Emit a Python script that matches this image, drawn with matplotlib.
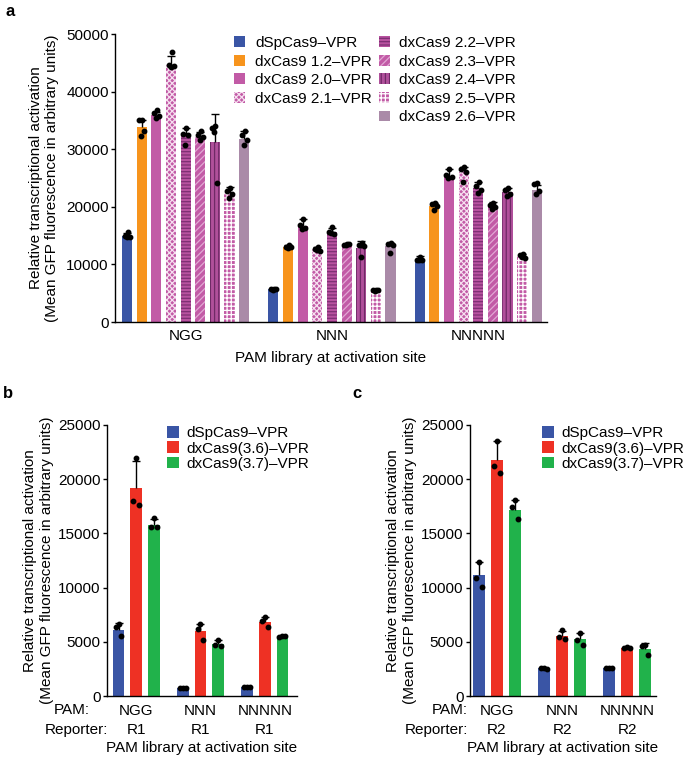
'''
PAM activation bar charts (panels a, b, c)
'''
import numpy as np
import matplotlib
matplotlib.use('Agg')
import matplotlib.pyplot as plt
from matplotlib.patches import Patch

plt.rcParams['font.family'] = ['Liberation Sans', 'DejaVu Sans']
plt.rcParams['font.size'] = 11
plt.rcParams['hatch.linewidth'] = 0.9

# ---- panel a data (values in arbitrary units) ----
pam_groups = ['NGG', 'NNN', 'NNNNN']
variants_a = ['dSpCas9–VPR', 'dxCas9 1.2–VPR', 'dxCas9 2.0–VPR', 'dxCas9 2.1–VPR',
              'dxCas9 2.2–VPR', 'dxCas9 2.3–VPR', 'dxCas9 2.4–VPR', 'dxCas9 2.5–VPR',
              'dxCas9 2.6–VPR']
mean_ngg = [15000, 33900, 35900, 44600, 32500, 32200, 31200, 22400, 31700]
mean_nnn = [5700, 13100, 16700, 12600, 15600, 13400, 12900, 5500, 13200]
mean_nnnnn = [10900, 20200, 25400, 26000, 23300, 20200, 22500, 11400, 23000]
sd_ngg = [400, 1100, 600, 1600, 1200, 800, 4900, 1000, 1500]
sd_nnn = [150, 300, 1200, 500, 700, 150, 1100, 200, 500]
sd_nnnnn = [500, 500, 1100, 900, 1000, 600, 800, 400, 700]
pts_ngg = [[15600, 15000, 14700, 14800], [35000, 35000, 33200, 32300],
           [36800, 36300, 35700, 35500], [46900, 44600, 44400, 44300],
           [33600, 32700, 32400, 30700], [33200, 32500, 32200, 31600],
           [34000, 33600, 24100, 32900], [23300, 22800, 22300, 21600],
           [33200, 32400, 31600, 30800]]
pts_nnn = [[5800, 5700, 5700, 5600], [13300, 13100, 13000, 12900],
           [17800, 16800, 16400, 16200], [13000, 12600, 12400, 12500],
           [16500, 15600, 15300, 15400], [13500, 13400, 13500, 13400],
           [13800, 13400, 13200, 11300], [5600, 5500, 5500, 5400],
           [13800, 13500, 13300, 11900]]
pts_nnnnn = [[11300, 10800, 10700, 10800], [20700, 20400, 20200, 19500],
             [26600, 25500, 25200, 25000], [26900, 26500, 26100, 24300],
             [24300, 23600, 23000, 22400], [20700, 20300, 20000, 19600],
             [23300, 22900, 22300, 21800], [11800, 11600, 11100, 11200],
             [24100, 23900, 22800, 22200]]

# ---- panel b / c data ----
variants_bc = ['dSpCas9–VPR', 'dxCas9(3.6)–VPR', 'dxCas9(3.7)–VPR']
reporter_b = ['R1', 'R1', 'R1']
reporter_c = ['R2', 'R2', 'R2']
# rows = variant, columns = PAM group
mean_b = [[6100, 700, 850], [19200, 6000, 6850], [15800, 4800, 5500]]
sd_b = [[600, 100, 50], [2500, 600, 450], [500, 400, 50]]
pts_b = [[[6600, 6350, 5500], [750, 700, 700], [850, 850, 850]],
         [[22000, 18000, 17600], [6600, 6200, 5200], [7300, 6900, 6400]],
         [[16400, 15600, 15600], [5200, 4700, 4600], [5500, 5450, 5500]]]
mean_c = [[11200, 2550, 2550], [21800, 5500, 4400], [17200, 5250, 4350]]
sd_c = [[1200, 50, 50], [1700, 500, 100], [900, 550, 500]]
pts_c = [[[12400, 10900, 10100], [2600, 2550, 2500], [2600, 2550, 2550]],
         [[23500, 21200, 20600], [6100, 5400, 5300], [4500, 4400, 4400]],
         [[18100, 17400, 16300], [5800, 5200, 4700], [4700, 4600, 3800]]]

# styles: (facecolor, hatch colour, hatch)
styles_a = [('#3a55a5', None, None), ('#f7941d', None, None), ('#c25ba6', None, None),
            ('#c25ba6', '#f6e0f0', 'xxxxxx'), ('#b8529f', '#7d2f73', '-----'),
            ('#c25ba6', '#e2a8d4', '/////'), ('#b0509b', '#6e2a66', '||||'),
            ('#c25ba6', '#ffffff', '++++'), ('#aa8aa8', None, None)]
colors_bc = ['#3a55a5', '#ee3124', '#21b24b']

YLABEL = 'Relative transcriptional activation\n(Mean GFP fluorescence in arbitrary units)'
XLABEL = 'PAM library at activation site'


def style_axes(ax):
    '''
    Keep only left and bottom spines
    '''
    for side in ['top', 'right']:
        ax.spines[side].set_visible(False)
    ax.spines['left'].set_linewidth(1.0)
    ax.spines['bottom'].set_linewidth(1.0)
    ax.tick_params(axis='y', length=3, width=1.0, pad=1.5)
    ax.tick_params(axis='x', length=0)


def draw_bar(ax, x, width, mean, sd, pts, face, hcol, hatch, offsets):
    '''
    One bar with upper error bar and replicate dots
    '''
    ax.bar(x, mean, width=width, color=face, edgecolor=hcol if hcol else face,
           linewidth=0, hatch=hatch, zorder=1)
    _, caps, _ = ax.errorbar([x], [mean], yerr=[[0], [sd]], fmt='none', ecolor='black',
                             elinewidth=1.0, capsize=3, capthick=1.0, zorder=2)
    caps[0].set_visible(False)
    xs = [x + o * width for o in offsets[:len(pts)]]
    ax.plot(xs, pts, 'o', color='black', markersize=3.2, zorder=3)


fig = plt.figure(figsize=(6.85, 7.6), dpi=100)

# ---------------- panel a ----------------
ax_a = fig.add_axes([115 / 685, 1 - 322 / 760, 432 / 685, 288 / 760])
style_axes(ax_a)
offsets_a = [0.05, -0.25, 0.25, -0.05]
all_means = [mean_ngg, mean_nnn, mean_nnnnn]
all_sds = [sd_ngg, sd_nnn, sd_nnnnn]
all_pts = [pts_ngg, pts_nnn, pts_nnnnn]
for g in range(len(pam_groups)):
    for i in range(len(variants_a)):
        face, hcol, hatch = styles_a[i]
        draw_bar(ax_a, g * 10 + i, 0.69, all_means[g][i], all_sds[g][i], all_pts[g][i],
                 face, hcol, hatch, offsets_a)
ax_a.set_xlim(-0.83, 28.7)
ax_a.set_ylim(0, 50000)
ax_a.set_yticks(np.arange(0, 50001, 10000))
ax_a.set_xticks([g * 10 + 4 for g in range(len(pam_groups))])
ax_a.set_xticklabels(pam_groups)
ax_a.tick_params(axis='x', pad=5)
ax_a.set_ylabel(YLABEL, linespacing=1.25, labelpad=5)
ax_a.text(0.5, -0.125, XLABEL, transform=ax_a.transAxes, ha='center', va='center')
handles_a = []
for i, name in enumerate(variants_a):
    face, hcol, hatch = styles_a[i]
    handles_a.append(Patch(facecolor=face, edgecolor=hcol if hcol else face,
                           linewidth=0, hatch=hatch, label=name))
# first column holds four entries, the second holds five
blank = Patch(facecolor='none', edgecolor='none', label=' ')
legend_items = handles_a[:4] + [blank] + handles_a[4:]
fig.legend(handles=legend_items, ncol=2, loc='upper left',
           bbox_to_anchor=(234 / 685, 1 - 36 / 760), frameon=False, borderpad=0,
           borderaxespad=0, handlelength=0.72, handleheight=0.72, handletextpad=0.65,
           labelspacing=0.3, columnspacing=0.45)


def draw_panel(rect, means, sds, pts, reporters, pam_x, rep_x, xlim, off, legend_x):
    '''
    Panel b or c: three variants over three PAM groups
    '''
    ax = fig.add_axes(rect)
    style_axes(ax)
    offsets_bc = [0.0, -0.25, 0.25]
    for j in range(len(variants_bc)):
        for g in range(len(pam_groups)):
            draw_bar(ax, g + (j - 1) * off, 0.18, means[j][g], sds[j][g], pts[j][g],
                     colors_bc[j], None, None, offsets_bc)
    ax.set_xlim(*xlim)
    ax.set_ylim(0, 25000)
    ax.set_yticks(np.arange(0, 25001, 5000))
    ax.set_xticks(range(len(pam_groups)))
    ax.set_xticklabels(pam_groups)
    ax.tick_params(axis='x', pad=5.5)
    ax.set_ylabel(YLABEL, linespacing=1.25, labelpad=3)
    for g, rep in enumerate(reporters):
        ax.text(g, -0.124, rep, transform=ax.get_xaxis_transform(), ha='center', va='center')
    ax.text(pam_x, -0.052, 'PAM:', transform=ax.transAxes, ha='right', va='center')
    ax.text(rep_x, -0.124, 'Reporter:', transform=ax.transAxes, ha='right', va='center')
    ax.text(0.5, -0.193, XLABEL, transform=ax.transAxes, ha='center', va='center')
    handles = [Patch(facecolor=c, edgecolor=c, linewidth=0, label=n)
               for c, n in zip(colors_bc, variants_bc)]
    fig.legend(handles=handles, loc='upper left', bbox_to_anchor=(legend_x, 1 - 426 / 760),
               frameon=False, borderpad=0, borderaxespad=0, handlelength=0.8,
               handleheight=0.8, handletextpad=0.45, labelspacing=0.08)
    return ax


draw_panel([107 / 685, 1 - 696 / 760, 190 / 685, 271 / 760], mean_b, sd_b, pts_b,
           reporter_b, -0.09, 0.005, (-0.453, 2.5), 0.273, 167 / 685)
draw_panel([470 / 685, 1 - 696 / 760, 186 / 685, 271 / 760], mean_c, sd_c, pts_c,
           reporter_c, -0.012, -0.01, (-0.41, 2.44), 0.275, 542 / 685)

fig.text(5 / 685, 1 - 12 / 760, 'a', fontsize=12, fontweight='bold', va='center')
fig.text(3 / 685, 1 - 394 / 760, 'b', fontsize=12, fontweight='bold', va='center')
fig.text(352 / 685, 1 - 394 / 760, 'c', fontsize=12, fontweight='bold', va='center')

fig.savefig('out.png', dpi=100)
